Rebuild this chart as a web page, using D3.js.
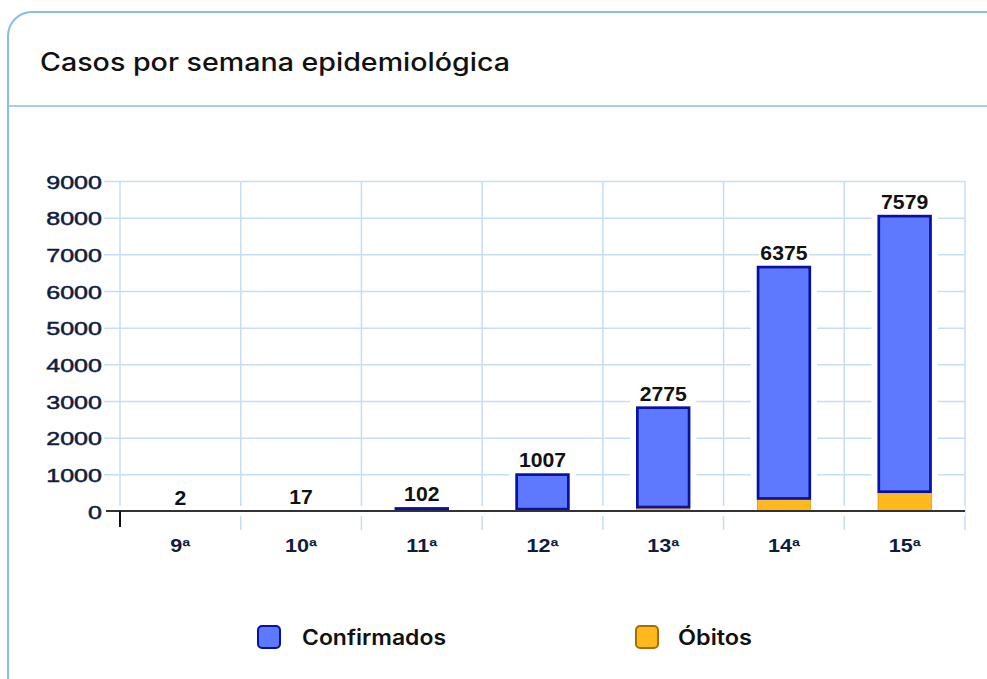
<!DOCTYPE html>
<html>
<head>
<meta charset="utf-8">
<script src="https://cdn.jsdelivr.net/npm/d3@7"></script>
<style>
  html, body { margin: 0; padding: 0; background: #fff; }
  svg { display: block; }
</style>
</head>
<body>
<svg id="chart" width="987" height="679"></svg>
<script>
// data
const weeks       = ['9ª', '10ª', '11ª', '12ª', '13ª', '14ª', '15ª'];
const confirmados = [2, 17, 102, 1007, 2775, 6375, 7579];
const obitos      = [0, 0, 0, 18, 75, 310, 495];
const yTicks      = [0, 1000, 2000, 3000, 4000, 5000, 6000, 7000, 8000, 9000];
const seriesNames = ['Confirmados', 'Óbitos'];

const BLUE = '#5e79fe', BLUE_EDGE = '#0812a0';
const ORANGE = '#ffb81e', ORANGE_EDGE = '#c98900';
const GRID = '#c6def4';
const INK = '#101c3e';

const svg = d3.select('#chart');

// card
svg.append('rect')
  .attr('x', 8).attr('y', 12).attr('width', 1010).attr('height', 700)
  .attr('rx', 24).attr('fill', '#fff')
  .attr('stroke', '#8dbbe8').attr('stroke-width', 2);
svg.append('line')
  .attr('x1', 9).attr('x2', 987).attr('y1', 106).attr('y2', 106)
  .attr('stroke', '#a8cdef').attr('stroke-width', 2);

svg.append('text')
  .attr('x', 40).attr('y', 71)
  .attr('textLength', 470).attr('lengthAdjust', 'spacingAndGlyphs')
  .style('font-family', 'Inter, Arial, sans-serif')
  .style('font-size', '25px').style('font-weight', 500)
  .style('fill', '#111')
  .text('Casos por semana epidemiológica');

const pLeft = 120, pRight = 965, pTop = 181, pBottom = 511;

const x = d3.scaleBand().domain(weeks).range([pLeft, pRight])
  .paddingInner(0.55).paddingOuter(0.275);
const y = d3.scaleLinear().domain([0, 9000]).range([pBottom, pTop]);

const step = x.step();
const bounds = d3.range(weeks.length + 1).map(i => pLeft + i * step);

// vertical grid
const g = svg.append('g');
g.selectAll('.vg').data(bounds).join('line')
  .attr('x1', d => d).attr('x2', d => d)
  .attr('y1', pTop).attr('y2', (d, i) => i === 0 ? pBottom : 530)
  .attr('stroke', GRID).attr('stroke-width', 1.5);

// y axis with horizontal gridlines
const yAxis = g.append('g')
  .attr('transform', `translate(104,0)`)
  .call(d3.axisLeft(y).tickValues(yTicks).tickFormat(d3.format('d'))
    .tickSize(-(pRight - 104)).tickPadding(2));
yAxis.select('.domain').remove();
yAxis.selectAll('.tick line').attr('stroke', GRID).attr('stroke-width', 1.5);
yAxis.selectAll('.tick text')
  .attr('x', null).attr('dy', null)
  .attr('transform', 'translate(-2,7) scale(1.32,1)')
  .style('font-family', '"Liberation Sans", Arial, sans-serif')
  .style('font-size', '19px')
  .style('fill', INK).style('stroke', INK).style('stroke-width', 0.5);

// white halo around the baseline
g.append('line')
  .attr('x1', 104).attr('x2', pRight).attr('y1', pBottom).attr('y2', pBottom)
  .attr('stroke', '#fff').attr('stroke-width', 10);

// stacked bars: óbitos at the bottom, confirmados on top
const stacked = weeks.map((w, i) => ({
  week: w,
  segs: [
    { key: 'obitos', y0: 0, y1: obitos[i] },
    { key: 'conf', y0: obitos[i], y1: obitos[i] + confirmados[i] }
  ],
  total: obitos[i] + confirmados[i],
  label: confirmados[i]
}));

const barsG = svg.append('g');
// halo to cut the grid around each bar
barsG.selectAll('.halo').data(stacked.filter(d => y(0) - y(d.total) >= 1)).join('rect')
  .attr('x', d => x(d.week)).attr('width', x.bandwidth())
  .attr('y', d => y(d.total)).attr('height', d => y(0) - y(d.total))
  .attr('fill', '#fff').attr('stroke', '#fff').attr('stroke-width', 12);

const segs = stacked.flatMap(d => d.segs.map(s => ({ ...s, week: d.week })))
  .filter(s => y(s.y0) - y(s.y1) >= 1);

// óbitos: flat orange block
barsG.selectAll('.ob').data(segs.filter(s => s.key === 'obitos')).join('rect')
  .attr('x', d => x(d.week) + 0.5).attr('width', x.bandwidth() - 1)
  .attr('y', d => y(d.y1)).attr('height', d => y(d.y0) - y(d.y1))
  .attr('fill', ORANGE)
  .attr('stroke', ORANGE_EDGE).attr('stroke-width', 0.6);

// confirmados: outlined blue block
barsG.selectAll('.cf').data(segs.filter(s => s.key === 'conf')).join('rect')
  .attr('x', d => x(d.week) + 1.3).attr('width', x.bandwidth() - 2.6)
  .attr('y', d => y(d.y1) + 1.2)
  .attr('height', d => Math.max(0.8, y(d.y0) - y(d.y1) - 2.4))
  .attr('fill', BLUE)
  .attr('stroke', BLUE_EDGE).attr('stroke-width', 2.7);

// baseline + x axis
const xAxis = svg.append('g')
  .attr('transform', `translate(0,${pBottom})`)
  .call(d3.axisBottom(x).tickSize(0).tickPadding(28));
xAxis.select('.domain').remove();
xAxis.selectAll('.tick text')
  .attr('y', null).attr('dy', null)
  .attr('transform', 'translate(0,41) scale(1.2,1)')
  .style('font-family', '"Liberation Sans", Arial, sans-serif')
  .style('font-size', '18px').style('font-weight', 'bold')
  .style('fill', INK);
svg.append('line')
  .attr('x1', 106).attr('x2', pRight).attr('y1', pBottom).attr('y2', pBottom)
  .attr('stroke', '#333').attr('stroke-width', 2);
svg.append('line')
  .attr('x1', pLeft).attr('x2', pLeft).attr('y1', pBottom).attr('y2', 527)
  .attr('stroke', '#111').attr('stroke-width', 2);

// value labels
svg.append('g').selectAll('text').data(stacked).join('text')
  .attr('transform', d => `translate(${x(d.week) + x.bandwidth() / 2},${y(d.total) - 6}) scale(1.06,1)`)
  .attr('text-anchor', 'middle')
  .style('font-family', '"Liberation Sans", Arial, sans-serif')
  .style('font-size', '20px').style('font-weight', 'bold')
  .style('fill', '#111')
  .style('stroke', '#fff').style('stroke-width', 4).style('paint-order', 'stroke')
  .text(d => d.label);

// legend
const legend = [
  { name: seriesNames[0], fill: BLUE, edge: BLUE_EDGE, x: 257, tx: 302, len: 144 },
  { name: seriesNames[1], fill: ORANGE, edge: '#a56f00', x: 635, tx: 678, len: 74 }
];
const lg = svg.append('g').selectAll('g').data(legend).join('g');
lg.append('rect')
  .attr('x', d => d.x + 1).attr('y', 626).attr('width', 22).attr('height', 22)
  .attr('rx', 4).attr('fill', d => d.fill)
  .attr('stroke', d => d.edge).attr('stroke-width', 2);
lg.append('text')
  .attr('x', d => d.tx).attr('y', 645)
  .attr('textLength', d => d.len).attr('lengthAdjust', 'spacingAndGlyphs')
  .style('font-family', 'Inter, Arial, sans-serif')
  .style('font-size', '21px').style('font-weight', 600)
  .style('fill', '#111')
  .text(d => d.name);
</script>
</body>
</html>
